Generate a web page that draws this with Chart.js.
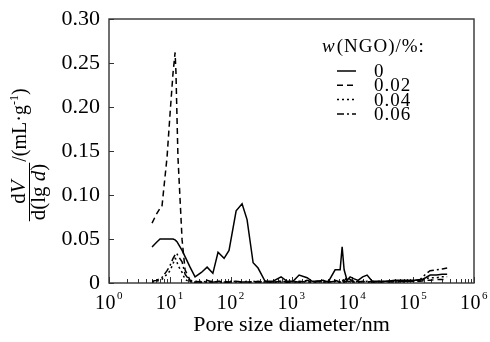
<!DOCTYPE html>
<html><head><meta charset="utf-8">
<script src="https://cdn.jsdelivr.net/npm/chart.js@4.4.0/dist/chart.umd.min.js"></script>
<style>html,body{margin:0;padding:0;background:#fff}</style>
</head><body>
<canvas id="c" width="490" height="342" style="display:block;width:490px;height:342px"></canvas>
<script>
// Pore size diameters (nm) shared by all series
const diameters = [5.1, 6.0, 6.9, 7.4, 9.0, 10.1, 11.3, 12.2, 12.6, 13.1, 13.6, 15.9, 17.8, 21.5, 26, 33, 41, 51, 62, 78, 94, 123, 154, 186, 234, 282, 368, 498, 674, 847, 1060, 1334, 1806, 2183, 2700, 3311, 4000, 5212, 6300, 6800, 7330, 8200, 9200, 10500, 12400, 14800, 17500, 21200, 28000, 38000, 50000, 65000, 85000, 108000, 130000, 160000, 190000, 240000, 300000, 362000];
// w(NGO) = 0 %
const series0 = [0.041, 0.046, 0.050, 0.050, 0.050, 0.050, 0.050, 0.049, 0.048, 0.047, 0.045, 0.037, 0.030, 0.018, 0.007, 0.012, 0.018, 0.011, 0.035, 0.028, 0.037, 0.082, 0.090, 0.072, 0.023, 0.017, 0.002, 0.002, 0.007, 0.002, 0.002, 0.009, 0.006, 0.002, 0.002, 0.003, 0.001, 0.015, 0.015, 0.041, 0.015, 0.003, 0.007, 0.005, 0.003, 0.007, 0.009, 0.002, 0.002, 0.002, 0.003, 0.003, 0.003, 0.003, 0.003, 0.006, 0.009, 0.009, 0.010, 0.010];
// w(NGO) = 0.02 %
const series002 = [0.068, 0.078, 0.085, 0.086, 0.143, 0.193, 0.239, 0.262, 0.240, 0.190, 0.143, 0.049, 0.015, 0.003, 0.002, 0.001, 0.003, 0.001, 0.002, 0.001, 0.001, 0.002, 0.001, 0.001, 0.001, 0.002, 0.001, 0.001, 0.002, 0.001, 0.002, 0.001, 0.003, 0.001, 0.002, 0.001, 0.002, 0.003, 0.001, 0.004, 0.002, 0.007, 0.004, 0.002, 0.001, 0.002, 0.001, 0.002, 0.001, 0.002, 0.001, 0.002, 0.002, 0.002, 0.002, 0.003, 0.003, 0.004, 0.004, 0.004];
// w(NGO) = 0.04 %
const series004 = [0.001, 0.002, 0.003, 0.004, 0.010, 0.014, 0.022, 0.028, 0.027, 0.024, 0.020, 0.012, 0.004, 0.001, 0.002, 0.001, 0.001, 0.002, 0.001, 0.001, 0.002, 0.001, 0.001, 0.002, 0.001, 0.001, 0.002, 0.001, 0.001, 0.002, 0.001, 0.001, 0.002, 0.001, 0.001, 0.002, 0.001, 0.002, 0.001, 0.003, 0.002, 0.001, 0.002, 0.001, 0.001, 0.002, 0.001, 0.001, 0.002, 0.001, 0.002, 0.001, 0.002, 0.002, 0.002, 0.005, 0.006, 0.006, 0.007, 0.007];
// w(NGO) = 0.06 %
const series006 = [0.002, 0.003, 0.005, 0.006, 0.014, 0.020, 0.028, 0.032, 0.034, 0.033, 0.031, 0.024, 0.010, 0.002, 0.001, 0.002, 0.001, 0.001, 0.002, 0.001, 0.001, 0.002, 0.001, 0.001, 0.002, 0.001, 0.001, 0.001, 0.002, 0.001, 0.001, 0.002, 0.001, 0.001, 0.002, 0.001, 0.001, 0.002, 0.001, 0.003, 0.001, 0.002, 0.003, 0.001, 0.002, 0.001, 0.002, 0.001, 0.001, 0.002, 0.001, 0.002, 0.002, 0.003, 0.004, 0.010, 0.014, 0.015, 0.016, 0.017];

const seriesLabels = ['0', '0.02', '0.04', '0.06'];
const seriesValues = [series0, series002, series004, series006];
const seriesDash = [[], [6, 4], [2, 3], [7, 3, 2, 3]];
const legendTitleItalic = 'w';
const legendTitleRest = '(NGO)/%:';
const xTitle = 'Pore size diameter/nm';
const yMin = 0, yMax = 0.30, yStep = 0.05;
const xMin = 1, xMax = 1e6;

const SERIF = "'Liberation Serif', 'Times New Roman', serif";

const isPow10 = v => Math.abs(Math.log10(v) - Math.round(Math.log10(v))) < 1e-9;

const framePlugin = {
  id: 'frame',
  beforeDatasetsDraw(chart) {
    const {ctx, chartArea: a, scales: {x, y}} = chart;
    ctx.save();
    ctx.strokeStyle = '#333';
    ctx.lineWidth = 1.4;
    ctx.strokeRect(a.left, a.top, a.right - a.left, a.bottom - a.top);
    ctx.lineWidth = 1;
    x.ticks.forEach(t => {
      const px = Math.round(x.getPixelForValue(t.value)) + 0.5;
      const len = isPow10(t.value) ? 6 : 4;
      ctx.beginPath(); ctx.moveTo(px, a.bottom); ctx.lineTo(px, a.bottom - len); ctx.stroke();
    });
    y.ticks.forEach(t => {
      const py = Math.round(y.getPixelForValue(t.value)) + 0.5;
      ctx.beginPath(); ctx.moveTo(a.left, py); ctx.lineTo(a.left + 5, py); ctx.stroke();
    });
    ctx.restore();
  },
  afterDraw(chart) {
    const {ctx, chartArea: a, scales: {x}} = chart;
    ctx.save();
    ctx.fillStyle = '#000';
    // X tick labels: 10 with superscript exponent
    ctx.letterSpacing = '0.5px';
    x.ticks.filter(t => isPow10(t.value)).forEach(t => {
      const px = x.getPixelForValue(t.value);
      const e = String(Math.round(Math.log10(t.value)));
      ctx.font = '20px ' + SERIF;
      const wb = ctx.measureText('10').width;
      ctx.font = '11px ' + SERIF;
      const we = ctx.measureText(e).width;
      const left = px - (wb + we + 1) / 2;
      ctx.textBaseline = 'alphabetic';
      ctx.font = '20px ' + SERIF;
      ctx.fillText('10', left, a.bottom + 26);
      ctx.font = '11px ' + SERIF;
      ctx.fillText(e, left + wb + 1, a.bottom + 16);
    });
    // Legend
    ctx.letterSpacing = '1px';
    ctx.textBaseline = 'alphabetic';
    ctx.font = 'italic 19px ' + SERIF;
    let tx = 322;
    ctx.fillText(legendTitleItalic, tx, 52);
    tx += ctx.measureText(legendTitleItalic).width + 1;
    ctx.font = '19px ' + SERIF;
    ctx.fillText(legendTitleRest, tx, 52);
    chart.data.datasets.forEach((ds, i) => {
      const yy = 71 + i * 14.3;
      ctx.strokeStyle = '#000';
      ctx.lineWidth = 1.5;
      ctx.setLineDash(ds.borderDash || []);
      ctx.beginPath(); ctx.moveTo(337, yy); ctx.lineTo(356, yy); ctx.stroke();
      ctx.setLineDash([]);
      ctx.textBaseline = 'middle';
      ctx.font = '19px ' + SERIF;
      ctx.fillText(ds.label, 374, yy + 1);
    });
    // Y axis title (fraction)
    ctx.letterSpacing = '0px';
    ctx.translate(29, 192);
    ctx.rotate(-Math.PI / 2);
    ctx.textBaseline = 'alphabetic';
    const seg = (parts, startU, v) => {
      let u = startU;
      parts.forEach(p => {
        ctx.font = (p.it ? 'italic ' : '') + (p.size || 20) + 'px ' + SERIF;
        ctx.fillText(p.t, u, v + (p.dy || 0));
        u += ctx.measureText(p.t).width;
      });
      return u;
    };
    const width = parts => parts.reduce((s, p) => {
      ctx.font = (p.it ? 'italic ' : '') + (p.size || 20) + 'px ' + SERIF;
      return s + ctx.measureText(p.t).width;
    }, 0);
    const num = [{t: 'd', size: 21}, {t: 'V', it: true, size: 21}];
    const den = [{t: 'd(lg ', size: 21}, {t: 'd', it: true, size: 21}, {t: ')', size: 21}];
    const wn = width(num), wd = width(den);
    seg(num, -wn / 2, -4);
    seg(den, -wd / 2, 16);
    ctx.strokeStyle = '#000';
    ctx.lineWidth = 1;
    ctx.beginPath(); ctx.moveTo(-wd / 2 - 1, 0.5); ctx.lineTo(wd / 2 + 1, 0.5); ctx.stroke();
    seg([{t: '/(mL\u00B7g'}, {t: '-1', size: 12, dy: -8}, {t: ')'}], wd / 2 + 2, -3);
    ctx.restore();
  }
};

new Chart(document.getElementById('c'), {
  type: 'line',
  data: {
    datasets: seriesValues.map((vals, i) => ({
      label: seriesLabels[i],
      data: diameters.map((d, j) => ({x: d, y: vals[j]})),
      borderColor: '#000',
      borderWidth: 1.5,
      borderDash: seriesDash[i],
      pointRadius: 0,
      fill: false,
      tension: 0
    }))
  },
  options: {
    responsive: false,
    animation: false,
    events: [],
    layout: {padding: {top: 19, right: 16, left: 0, bottom: 0}},
    plugins: {legend: {display: false}, tooltip: {enabled: false}, title: {display: false}},
    scales: {
      x: {
        type: 'logarithmic',
        min: xMin, max: xMax,
        grid: {display: false, drawTicks: false},
        border: {display: false},
        afterFit: s => { s.height = 59; s.paddingLeft = 0; s.paddingRight = 0; },
        ticks: {display: false, autoSkip: false, maxRotation: 0, minRotation: 0},
        title: {display: true, text: xTitle, color: '#000', font: {family: SERIF, size: 22}, padding: {top: 0, bottom: 4}}
      },
      y: {
        min: yMin, max: yMax,
        grid: {display: false, drawTicks: false},
        border: {display: false},
        afterFit: s => { s.width = 109; s.paddingTop = 0; s.paddingBottom = 0; },
        ticks: {
          stepSize: yStep, padding: 9, color: '#000',
          font: {family: SERIF, size: 22},
          callback: v => v === 0 ? '0' : v.toFixed(2)
        }
      }
    }
  },
  plugins: [framePlugin]
});
</script>
</body></html>
